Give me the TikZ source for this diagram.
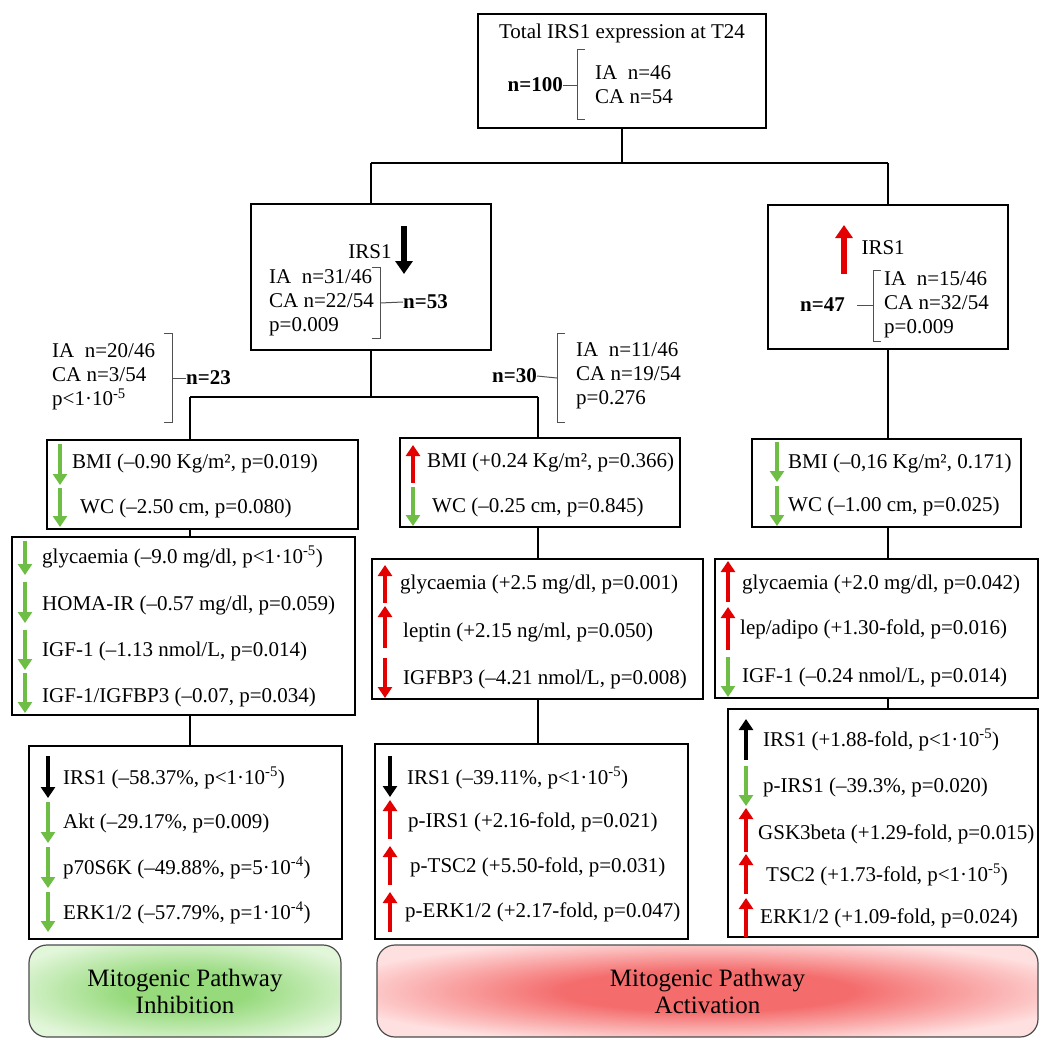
\documentclass[tikz,border=0pt]{standalone}
\usepackage{fontspec}
\setmainfont{Liberation Serif}
\usetikzlibrary{arrows.meta}

\definecolor{downGreen}{RGB}{110,190,70}
\definecolor{upRed}{RGB}{228,0,0}
\definecolor{bracketGray}{RGB}{80,80,80}
\definecolor{inhibGreen}{RGB}{150,218,124}
\definecolor{inhibPale}{RGB}{226,246,218}
\definecolor{actRed}{RGB}{244,108,108}
\definecolor{actPale}{RGB}{255,224,224}
\pgfdeclareradialshading{inhibShade}{\pgfpoint{0bp}{0bp}}{color(0bp)=(inhibGreen);
    color(10bp)=(inhibGreen); color(30bp)=(inhibPale); color(50bp)=(inhibPale)}
\pgfdeclareradialshading{actShade}{\pgfpoint{0bp}{0bp}}{color(0bp)=(actRed);
    color(11bp)=(actRed); color(29bp)=(actPale); color(50bp)=(actPale)}

\begin{document}
\begin{tikzpicture}[x=1pt, y=-1pt,
    every node/.style={font=\fontsize{21}{24}\selectfont},
    box/.style={draw, line width=2.6pt, inner sep=0pt},
    link/.style={line width=1.4pt},
    linkMid/.style={line width=2.2pt},
    linkThick/.style={line width=2.8pt},
    brace/.style={line width=1pt, bracketGray},
    row/.style={anchor=west, inner sep=0pt},
    group/.style={anchor=west, align=left, inner sep=0pt},
    count/.style={inner sep=0pt, font=\fontsize{21}{24}\selectfont\bfseries},
    trend/.style={line width=4.5pt, -{Triangle[width=14pt,length=11pt]}},
    bigTrend/.style={line width=6pt, -{Triangle[width=17pt,length=13pt]}},
    pathway/.style={draw=black!70, line width=1.2pt, rounded corners=18pt, inner sep=0pt,
        align=center, font=\fontsize{25}{27}\selectfont}]
    \useasboundingbox (0,0) rectangle (1041,1039);

    % top of the tree
    \node[box, minimum width=288, minimum height=114] (totalBox) at (622,71) {};
    \node (title) at (622,33) {Total IRS1 expression at T24};
    \node[count, anchor=east] (n100) at (563,85) {n=100};
    \node[group] (totalGroup) at (595,85) {IA\ \ n=46\\CA n=54};
    \draw[brace] (585,49) -- (577,49) -- (577,119) -- (585,119);
    \draw[brace] (n100.east) -- (577,85);

    % IRS1 down / up
    \node[box, minimum width=240, minimum height=146] (irsDownBox) at (371,277) {};
    \node (irsDown) at (370,252) {IRS1};
    \draw[bigTrend, black] (404,226) -- (404,274);
    \node[group] (downGroup) at (269,303) {IA\ \ n=31/46\\CA n=22/54\\p=0.009};
    \draw[brace] (372,267) -- (380,267) -- (380,338) -- (372,338);
    \node[count, anchor=west] (n53) at (403,302) {n=53};
    \draw[brace] (380,303) -- (n53.west);

    \node[box, minimum width=240, minimum height=144] (irsUpBox) at (888,277) {};
    \node[anchor=west] (irsUp) at (858,248) {IRS1};
    \draw[bigTrend, upRed] (844,274) -- (844,225);
    \node[count, anchor=east] (n47) at (845,305) {n=47};
    \node[group] (upGroup) at (884,305) {IA\ \ n=15/46\\CA n=32/54\\p=0.009};
    \draw[brace] (881,270) -- (873,270) -- (873,341) -- (881,341);
    \draw[brace] (857,305) -- (873,305);

    \coordinate (topSplit) at (622,163);
    \draw[linkThick] (totalBox.south) -- (topSplit);
    \draw[linkMid] (irsDownBox.north |- topSplit) -- (irsUpBox.north |- topSplit);
    \draw[link] (irsDownBox.north |- topSplit) -- (irsDownBox.north);
    \draw[link] (irsUpBox.north |- topSplit) -- (irsUpBox.north);

    % the two subgroups of IRS1 down
    \node[group] (leftGroup) at (52,377) {IA\ \ n=20/46\\CA n=3/54\\p<1·10\textsuperscript{-5}};
    \draw[brace] (164,333) -- (172,333) -- (172,422) -- (164,422);
    \node[count, anchor=west] (n23) at (186,378) {n=23};
    \draw[brace] (172,378) -- (n23.west);

    \node[count, anchor=east] (n30) at (537,376) {n=30};
    \node[group] (midGroup) at (576,376) {IA\ \ n=11/46\\CA n=19/54\\p=0.276};
    \draw[brace] (565,333) -- (557,333) -- (557,422) -- (565,422);
    \draw[brace] (n30.east) -- (557,378);

    \coordinate (leftCol) at (190,397);
    \coordinate (midCol) at (538,397);
    \draw[link] (irsDownBox.south) -- (irsDownBox.south |- leftCol);
    \draw[linkThick] (leftCol) -- (midCol);

    % left column
    \node[box, minimum width=311, minimum height=89] (bmiLeftBox) at (202.5,484.5) {};
    \node[box, minimum width=343, minimum height=178] (glyLeftBox) at (183.5,626) {};
    \node[box, minimum width=313, minimum height=193] (sigLeftBox) at (185.5,842.5) {};
    \draw[link] (leftCol) -- (leftCol |- bmiLeftBox.north);
    \draw[link] (leftCol |- bmiLeftBox.south) -- (leftCol |- glyLeftBox.north);
    \draw[link] (leftCol |- glyLeftBox.south) -- (leftCol |- sigLeftBox.north);

    \node[row] (lBmi) at (72,463) {BMI (–0.90 Kg/m², p=0.019)};
    \node[row] (lWc) at (80,508) {WC (–2.50 cm, p=0.080)};
    \draw[trend, downGreen] (60,444) -- (60,485);
    \draw[trend, downGreen] (60,488) -- (60,527);

    \node[row] (lGly) at (42,557) {glycaemia (–9.0 mg/dl, p<1·10\textsuperscript{-5})};
    \node[row] (lHoma) at (42,605) {HOMA-IR (–0.57 mg/dl, p=0.059)};
    \node[row] (lIgf) at (42,651) {IGF-1 (–1.13 nmol/L, p=0.014)};
    \node[row] (lRatio) at (42,697) {IGF-1/IGFBP3 (–0.07, p=0.034)};
    \draw[trend, downGreen] (25,541) -- (25,575);
    \draw[trend, downGreen] (25,582) -- (25,623);
    \draw[trend, downGreen] (25,630) -- (25,670);
    \draw[trend, downGreen] (25,673) -- (25,713);

    \node[row] (lIrs) at (63,778) {IRS1 (–58.37\%, p<1·10\textsuperscript{-5})};
    \node[row] (lAkt) at (63,823) {Akt (–29.17\%, p=0.009)};
    \node[row] (lP70) at (63,868) {p70S6K (–49.88\%, p=5·10\textsuperscript{-4})};
    \node[row] (lErk) at (63,913) {ERK1/2 (–57.79\%, p=1·10\textsuperscript{-4})};
    \draw[trend, black] (48,756) -- (48,798);
    \draw[trend, downGreen] (48,802) -- (48,843);
    \draw[trend, downGreen] (48,847) -- (48,888);
    \draw[trend, downGreen] (48,892) -- (48,932);

    % middle column
    \node[box, minimum width=280, minimum height=89] (bmiMidBox) at (540,482.5) {};
    \node[box, minimum width=331, minimum height=140] (glyMidBox) at (537.5,629) {};
    \node[box, minimum width=313, minimum height=195] (sigMidBox) at (531.5,841.5) {};
    \draw[link] (midCol) -- (midCol |- bmiMidBox.north);
    \draw[link] (midCol |- bmiMidBox.south) -- (midCol |- glyMidBox.north);
    \draw[link] (midCol |- glyMidBox.south) -- (midCol |- sigMidBox.north);

    \node[row] (mBmi) at (427,462) {BMI (+0.24 Kg/m², p=0.366)};
    \node[row] (mWc) at (432,507) {WC (–0.25 cm, p=0.845)};
    \draw[trend, upRed] (413,483) -- (413,445);
    \draw[trend, downGreen] (413,487) -- (413,526);

    \node[row] (mGly) at (400,584) {glycaemia (+2.5 mg/dl, p=0.001)};
    \node[row] (mLep) at (403,632) {leptin (+2.15 ng/ml, p=0.050)};
    \node[row] (mBp3) at (403,679) {IGFBP3 (–4.21 nmol/L, p=0.008)};
    \draw[trend, upRed] (385,603) -- (385,565);
    \draw[trend, upRed] (385,648) -- (385,606);
    \draw[trend, upRed] (385,658) -- (385,698);

    \node[row] (mIrs) at (407,778) {IRS1 (–39.11\%, p<1·10\textsuperscript{-5})};
    \node[row] (mPIrs) at (408,822) {p-IRS1 (+2.16-fold, p=0.021)};
    \node[row] (mTsc) at (410,867) {p-TSC2 (+5.50-fold, p=0.031)};
    \node[row] (mErk) at (405,912) {p-ERK1/2 (+2.17-fold, p=0.047)};
    \draw[trend, black] (390,756) -- (390,797);
    \draw[trend, upRed] (390,839) -- (390,800);
    \draw[trend, upRed] (390,885) -- (390,846);
    \draw[trend, upRed] (390,932) -- (390,892);

    % right column
    \node[box, minimum width=269, minimum height=88] (bmiRightBox) at (886.5,483) {};
    \node[box, minimum width=323, minimum height=139] (glyRightBox) at (876.5,628.5) {};
    \node[box, minimum width=310, minimum height=228] (sigRightBox) at (883,823) {};
    \draw[link] (irsUpBox.south) -- (irsUpBox.south |- bmiRightBox.north);
    \draw[link] (irsUpBox.south |- bmiRightBox.south) -- (irsUpBox.south |- glyRightBox.north);
    \draw[link] (irsUpBox.south |- glyRightBox.south) -- (irsUpBox.south |- sigRightBox.north);

    \node[row] (rBmi) at (788,463) {BMI (–0,16 Kg/m², 0.171)};
    \node[row] (rWc) at (788,506) {WC (–1.00 cm, p=0.025)};
    \draw[trend, downGreen] (777,442) -- (777,482);
    \draw[trend, downGreen] (777,486) -- (777,526);

    \node[row] (rGly) at (742,584) {glycaemia (+2.0 mg/dl, p=0.042)};
    \node[row] (rLep) at (740,629) {lep/adipo (+1.30-fold, p=0.016)};
    \node[row] (rIgf) at (742,677) {IGF-1 (–0.24 nmol/L, p=0.014)};
    \draw[trend, upRed] (728,602) -- (728,561);
    \draw[trend, upRed] (728,650) -- (728,607);
    \draw[trend, downGreen] (728,657) -- (728,697);

    \node[row] (rIrs) at (763,740) {IRS1 (+1.88-fold, p<1·10\textsuperscript{-5})};
    \node[row] (rPIrs) at (763,787) {p-IRS1 (–39.3\%, p=0.020)};
    \node[row] (rGsk) at (758,834) {GSK3beta (+1.29-fold, p=0.015)};
    \node[row] (rTsc) at (766,875) {TSC2 (+1.73-fold, p<1·10\textsuperscript{-5})};
    \node[row] (rErk) at (760,918) {ERK1/2 (+1.09-fold, p=0.024)};
    \draw[trend, black] (746,760) -- (746,719);
    \draw[trend, downGreen] (746,766) -- (746,806);
    \draw[trend, upRed] (746,852) -- (746,808);
    \draw[trend, upRed] (746,894) -- (746,854);
    \draw[trend, upRed] (746,937) -- (746,898);

    % outcome
    \node[pathway, minimum width=312, minimum height=92, shading=inhibShade, shade]
        (inhibition) at (185,991) {Mitogenic Pathway\\Inhibition};
    \node[pathway, minimum width=661, minimum height=92, shading=actShade, shade]
        (activation) at (707.5,991) {Mitogenic Pathway\\Activation};
\end{tikzpicture}
\end{document}
